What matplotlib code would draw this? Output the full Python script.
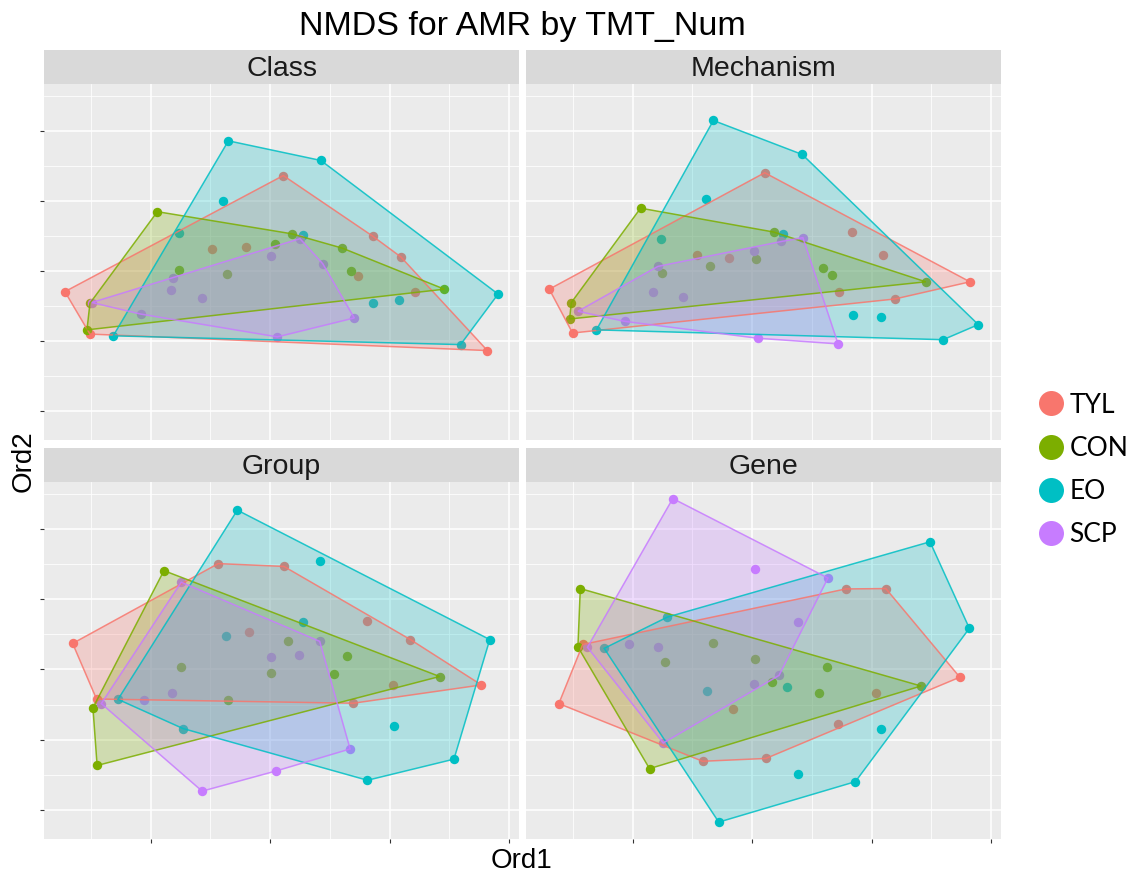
import matplotlib as mpl
import matplotlib.pyplot as plt
from matplotlib.lines import Line2D
from matplotlib.patches import Polygon

mpl.use('Agg')

groups = ["TYL", "CON", "EO", "SCP"]
cores = {"TYL": "#F8766D", "CON": "#7CAE00", "EO": "#00BFC4", "SCP": "#C77CFF"}

# NMDS scores per facet (Ord1, Ord2)
class_x = {
    "TYL": [-0.344, -0.302, 0.022, -0.097, -0.040, 0.172, 0.219, 0.148, 0.243, 0.364],
    "CON": [-0.189, -0.302, -0.307, -0.153, -0.073, 0.008, 0.036, 0.121, 0.136, 0.292],
    "EO": [-0.070, 0.085, -0.079, -0.153, 0.055, 0.172, 0.216, 0.382, 0.319, -0.263],
    "SCP": [-0.299, -0.217, 0.012, 0.141, 0.088, 0.050, 0.001, -0.163, -0.167, -0.114],
}
class_y = {
    "TYL": [-0.059, -0.180, 0.272, 0.062, 0.069, 0.099, 0.040, -0.014, -0.059, -0.227],
    "CON": [0.169, -0.092, -0.168, 0.003, -0.009, 0.078, 0.106, 0.065, 0.000, -0.052],
    "EO": [0.371, 0.315, 0.198, 0.107, 0.103, -0.090, -0.082, -0.066, -0.210, -0.185],
    "SCP": [-0.090, -0.123, -0.188, -0.134, 0.021, 0.092, 0.043, -0.019, -0.054, -0.078],
}

mech_x = {
    "TYL": [-0.340, -0.301, 0.021, -0.093, -0.039, 0.167, 0.220, 0.146, 0.239, 0.365],
    "CON": [-0.187, -0.303, -0.306, -0.151, -0.070, 0.006, 0.036, 0.118, 0.133, 0.291],
    "EO": [-0.065, 0.084, -0.078, -0.152, 0.052, 0.169, 0.216, 0.379, 0.320, -0.261],
    "SCP": [-0.292, -0.213, 0.010, 0.144, 0.085, 0.049, 0.003, -0.158, -0.166, -0.116],
}
mech_y = {
    "TYL": [-0.052, -0.177, 0.280, 0.045, 0.036, 0.111, 0.045, -0.059, -0.080, -0.031],
    "CON": [0.179, -0.090, -0.137, -0.005, 0.014, 0.035, 0.111, 0.007, -0.012, -0.031],
    "EO": [0.429, 0.332, 0.206, 0.092, 0.106, -0.125, -0.132, -0.153, -0.196, -0.168],
    "SCP": [-0.115, -0.144, -0.192, -0.208, 0.095, 0.084, 0.057, 0.013, -0.061, -0.073],
}

group_x = {
    "TYL": [-0.331, -0.291, -0.087, 0.023, -0.036, 0.163, 0.235, 0.206, 0.139, 0.354],
    "CON": [-0.178, -0.297, -0.290, -0.149, -0.070, 0.002, 0.030, 0.107, 0.128, 0.284],
    "EO": [-0.055, 0.083, -0.074, 0.055, 0.368, 0.208, 0.308, 0.163, -0.146, -0.255],
    "SCP": [-0.149, 0.083, 0.134, 0.009, -0.114, -0.283, -0.211, -0.164, 0.001, 0.048],
}
group_y = {
    "TYL": [0.074, -0.084, 0.301, 0.293, 0.107, 0.137, 0.085, -0.044, -0.096, -0.044],
    "CON": [0.281, -0.109, -0.273, 0.007, -0.088, -0.011, 0.080, -0.013, 0.038, -0.020],
    "EO": [0.453, 0.309, 0.094, 0.135, 0.085, -0.160, -0.255, -0.315, -0.168, -0.085],
    "SCP": [0.248, 0.080, -0.226, -0.289, -0.346, -0.097, -0.087, -0.067, 0.036, 0.041],
}

gene_x = {
    "TYL": [-0.324, -0.284, -0.083, 0.023, -0.032, 0.144, 0.157, 0.224, 0.207, 0.348],
    "CON": [-0.288, -0.292, -0.172, -0.146, -0.065, 0.005, 0.034, 0.126, 0.112, 0.283],
    "EO": [0.298, 0.364, 0.173, -0.056, 0.077, 0.216, -0.248, -0.142, -0.075, 0.058],
    "SCP": [-0.133, 0.127, 0.005, 0.076, 0.045, 0.003, -0.149, -0.276, -0.206, -0.158],
}
gene_y = {
    "TYL": [-0.097, 0.071, -0.261, -0.253, -0.111, -0.156, 0.229, 0.230, -0.067, -0.022],
    "CON": [0.230, 0.064, -0.282, 0.022, 0.076, 0.029, -0.035, 0.007, -0.068, -0.047],
    "EO": [0.363, 0.117, -0.319, -0.434, -0.298, -0.170, 0.060, 0.149, -0.062, -0.049],
    "SCP": [0.486, 0.260, 0.286, 0.134, -0.017, -0.040, -0.209, 0.063, 0.071, 0.064],
}

paineis = [
    ("Class", class_x, class_y),
    ("Mechanism", mech_x, mech_y),
    ("Group", group_x, group_y),
    ("Gene", gene_x, gene_y),
]


def envoltoria(xs, ys):
    # convex hull, monotone chain
    pts = sorted(set(zip(xs, ys)))

    def cruz(o, a, b):
        return (a[0] - o[0]) * (b[1] - o[1]) - (a[1] - o[1]) * (b[0] - o[0])

    baixo = []
    for p in pts:
        while len(baixo) >= 2 and cruz(baixo[-2], baixo[-1], p) <= 0:
            baixo.pop()
        baixo.append(p)
    cima = []
    for p in reversed(pts):
        while len(cima) >= 2 and cruz(cima[-2], cima[-1], p) <= 0:
            cima.pop()
        cima.append(p)
    return baixo[:-1] + cima[:-1]


W, H = 1132, 876
fig = plt.figure(figsize=(W / 100, H / 100), dpi=100)
fonte = "Liberation Sans"

# panel boxes in pixels: left, top, width, height
caixas = [(44, 84, 475, 356), (526, 84, 475, 356),
          (44, 482, 475, 357), (526, 482, 475, 357)]
faixa = 34

for i, ((nome, dx, dy), (l, t, w, h)) in enumerate(zip(paineis, caixas)):
    ax = fig.add_axes([l / W, 1 - (t + h) / H, w / W, h / H])
    ax.set_facecolor("#EBEBEB")
    for s in ax.spines.values():
        s.set_visible(False)
    ax.set_xlim(-0.379, 0.417)
    ax.set_ylim(-0.482, 0.533)
    ax.set_xticks([-0.2, 0.0, 0.2, 0.4])
    ax.set_yticks([-0.4, -0.2, 0.0, 0.2, 0.4])
    ax.set_xticks([-0.3, -0.1, 0.1, 0.3], minor=True)
    ax.set_yticks([-0.3, -0.1, 0.1, 0.3, 0.5], minor=True)
    ax.set_xticklabels([])
    ax.set_yticklabels([])
    ax.grid(which="major", color="white", linewidth=1.1)
    ax.grid(which="minor", color="white", linewidth=0.55)
    ax.set_axisbelow(True)
    ax.tick_params(which="minor", length=0)
    ax.tick_params(which="major", length=3, width=0.8, color="#333333",
                   left=(i % 2 == 0), bottom=(i >= 2))

    for g in groups:
        ax.scatter(dx[g], dy[g], s=46, color=cores[g], linewidths=0, zorder=2)
    for g in groups:
        casco = envoltoria(dx[g], dy[g])
        ax.add_patch(Polygon(casco, closed=True, facecolor=cores[g], alpha=0.25,
                             edgecolor="none", zorder=3))
        ax.add_patch(Polygon(casco, closed=True, fill=False, edgecolor=cores[g],
                             linewidth=1.1, alpha=0.85, zorder=4))

    tira = fig.add_axes([l / W, 1 - t / H, w / W, faixa / H])
    tira.set_facecolor("#D9D9D9")
    tira.set_xticks([])
    tira.set_yticks([])
    for s in tira.spines.values():
        s.set_visible(False)
    tira.text(0.5, 0.45, nome, ha="center", va="center", fontsize=20.5,
              color="#1A1A1A", family=fonte)

fig.text(522 / W, 1 - 27 / H, "NMDS for AMR by TMT_Num", ha="center", va="center",
         fontsize=24.5, family=fonte)
fig.text(522 / W, 1 - 861 / H, "Ord1", ha="center", va="center", fontsize=20,
         family=fonte)
fig.text(24 / W, 1 - 461 / H, "Ord2", ha="center", va="center", fontsize=20,
         rotation=90, family=fonte)

marcas = [Line2D([], [], marker="o", linestyle="", markersize=18,
                 markerfacecolor=cores[g], markeredgewidth=0) for g in groups]
fig.legend(marcas, groups, loc="center left", bbox_to_anchor=(1022 / W, 1 - 470 / H),
           frameon=False, prop={"family": "Lato", "size": 19}, handletextpad=0.1,
           labelspacing=0.69, handlelength=1.2, borderpad=0)

fig.savefig("out.png", dpi=100)
